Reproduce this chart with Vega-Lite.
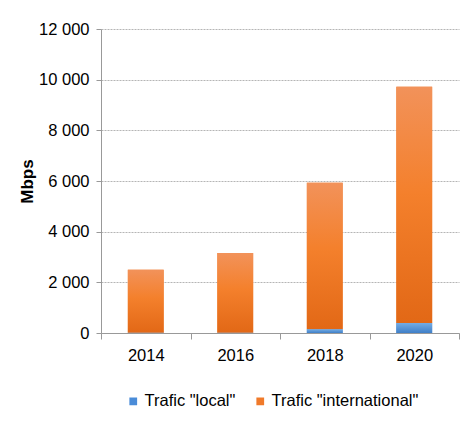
{
  "$schema": "https://vega.github.io/schema/vega-lite/v6.json",
  "width": 358,
  "height": 304,
  "autosize": {"type": "none"},
  "padding": {"left": 101, "top": 29, "right": 13, "bottom": 97},
  "background": "white",
  "config": {
    "view": {"stroke": null},
    "font": "Liberation Sans, Arial, sans-serif",
    "axis": {"labelFont": "Liberation Sans, Arial, sans-serif", "labelColor": "#000", "titleColor": "#000"},
    "legend": {"labelFont": "Liberation Sans, Arial, sans-serif", "labelColor": "#000"}
  },
  "data": {
    "values": [
      {"year": "2014", "series": "Trafic \"local\"", "order": 1, "value": 6},
      {"year": "2014", "series": "Trafic \"international\"", "order": 2, "value": 2494},
      {"year": "2016", "series": "Trafic \"local\"", "order": 1, "value": 8},
      {"year": "2016", "series": "Trafic \"international\"", "order": 2, "value": 3152},
      {"year": "2018", "series": "Trafic \"local\"", "order": 1, "value": 146},
      {"year": "2018", "series": "Trafic \"international\"", "order": 2, "value": 5788},
      {"year": "2020", "series": "Trafic \"local\"", "order": 1, "value": 390},
      {"year": "2020", "series": "Trafic \"international\"", "order": 2, "value": 9333}
    ]
  },
  "transform": [
    {"stack": "value", "groupby": ["year"], "sort": [{"field": "order"}], "as": ["v0", "v1"]}
  ],
  "encoding": {
    "x": {
      "field": "year", "type": "nominal",
      "scale": {"paddingInner": 0, "paddingOuter": 0},
      "axis": {
        "title": null, "labelAngle": 0, "labelFontSize": 16.5, "labelPadding": 8,
        "domainColor": "#999", "tickColor": "#999", "tickSize": 6, "tickBand": "extent"
      }
    },
    "y": {
      "field": "v1", "type": "quantitative",
      "scale": {"domain": [0, 12000], "nice": false},
      "axis": {
        "title": "Mbps", "titleFontSize": 17, "titleFontWeight": "bold", "titlePadding": 2,
        "titleFont": "Liberation Sans, Arial, sans-serif",
        "values": [0, 2000, 4000, 6000, 8000, 10000, 12000],
        "labelExpr": "replace(format(datum.value, ',d'), ',', ' ')",
        "labelFontSize": 16.5, "labelPadding": 7,
        "domainColor": "#999", "tickColor": "#999", "tickSize": 5,
        "grid": true, "gridColor": "#b5b5b5", "gridDash": [2, 1], "gridWidth": 1
      }
    },
    "y2": {"field": "v0"}
  },
  "layer": [
    {
      "mark": {"type": "bar", "width": {"band": 0.4}},
      "encoding": {
        "color": {
          "field": "series", "type": "nominal",
          "scale": {"domain": ["Trafic \"local\"", "Trafic \"international\""], "range": ["#4a8cd8", "#f07a2a"]},
          "legend": {
            "title": null, "orient": "none", "legendX": 24, "legendY": 364,
            "direction": "horizontal", "symbolType": "square", "symbolSize": 60,
            "labelFontSize": 16.5, "labelOffset": 3, "columnPadding": 16, "symbolStrokeWidth": 0
          }
        }
      }
    },
    {
      "transform": [{"filter": "datum.order == 2"}],
      "mark": {
        "type": "bar", "width": {"band": 0.4},
        "fill": {
          "gradient": "linear", "x1": 0, "y1": 0, "x2": 0, "y2": 1,
          "stops": [
            {"offset": 0, "color": "#f2925a"},
            {"offset": 0.45, "color": "#f4802c"},
            {"offset": 1, "color": "#e26816"}
          ]
        }
      }
    },
    {
      "transform": [{"filter": "datum.order == 1"}],
      "mark": {
        "type": "bar", "width": {"band": 0.4},
        "fill": {
          "gradient": "linear", "x1": 0, "y1": 0, "x2": 0, "y2": 1,
          "stops": [
            {"offset": 0, "color": "#74ace4"},
            {"offset": 1, "color": "#3f7fc8"}
          ]
        }
      }
    }
  ]
}
